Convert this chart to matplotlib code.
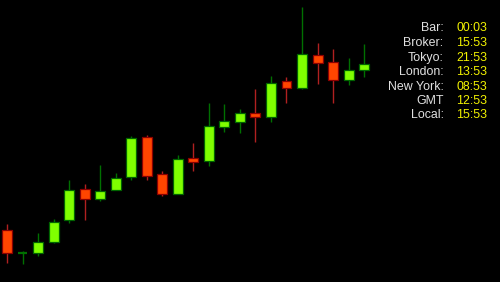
import matplotlib
matplotlib.use("Agg")
from matplotlib import pyplot as plt

# OHLC (price units = pixels up from the bottom)
opens = [52, 29.3, 29.3, 40.3, 61.7, 92.7, 82.7, 91.7, 105.3, 144.7, 107.7, 87.7,
         123.7, 120.7, 155.3, 160.3, 168.7, 165.3, 200.7, 194.3, 226.7, 220, 202, 211.7]
highs = [58, 31, 49.3, 63, 102, 98, 117.3, 108.7, 146, 146.7, 111, 127,
         138.7, 178.7, 177.7, 173, 193, 206.3, 204.7, 275.3, 239.3, 232.7, 224.3, 237.7]
lows = [18.7, 17.7, 26.3, 38.7, 59.3, 62, 81.3, 91.7, 102, 102, 86.3, 88,
        111.3, 116, 150.3, 149.3, 140.3, 160.3, 179.3, 192.7, 198.3, 179.3, 197, 205.3]
closes = [29.3, 29.3, 40.3, 59.7, 91.7, 82.7, 90.7, 104.3, 144, 106, 87.7, 122.7,
          120.5, 156, 160.7, 168.7, 165.3, 199.3, 194.3, 227.7, 219.3, 202, 212, 218]

clock_labels = ["Bar:", "Broker:", "Tokyo:", "London:", "New York:", "GMT", "Local:"]
clock_values = ["00:03", "15:53", "21:53", "13:53", "08:53", "12:53", "15:53"]

up_body, up_edge = "#7fff00", "#006400"
dn_body, dn_edge = "#ff4500", "#8b0000"
up_wick, dn_wick = "#007000", "#b02020"

fig = plt.figure(figsize=(5, 2.82), dpi=100, facecolor="black")
ax = fig.add_axes([0, 0, 1, 1])
ax.set_facecolor("black")

w = 0.64
for i in range(len(opens)):
    o, h, l, c = opens[i], highs[i], lows[i], closes[i]
    up = c >= o
    ax.vlines(i, l, h, color=up_wick if up else dn_wick, linewidth=1.0, zorder=1)
    if o == c:
        ax.hlines(o, i - w / 2, i + w / 2, color=up_wick, linewidth=1.6, zorder=2)
        continue
    ax.bar(i, c - o, bottom=o, width=w,
           color=up_body if up else dn_body,
           edgecolor=up_edge if up else dn_edge, linewidth=0.9, zorder=2)

ax.set_xlim(-0.45, 31.75)
ax.set_ylim(0, 282)
ax.axis("off")

row_y = [28.3, 43.3, 57.6, 72.2, 86.5, 101, 115.3]
for lab, val, y in zip(clock_labels, clock_values, row_y):
    fig.text(443.5 / 500, 1 - y / 282, lab, color="#e0e0e0", ha="right", va="center",
             fontsize=8.9, family="Liberation Sans")
    fig.text(456.5 / 500, 1 - y / 282, val, color="#f2f200", ha="left", va="center",
             fontsize=8.9, family="Liberation Sans")

fig.savefig("out.png", dpi=100, facecolor="black")
